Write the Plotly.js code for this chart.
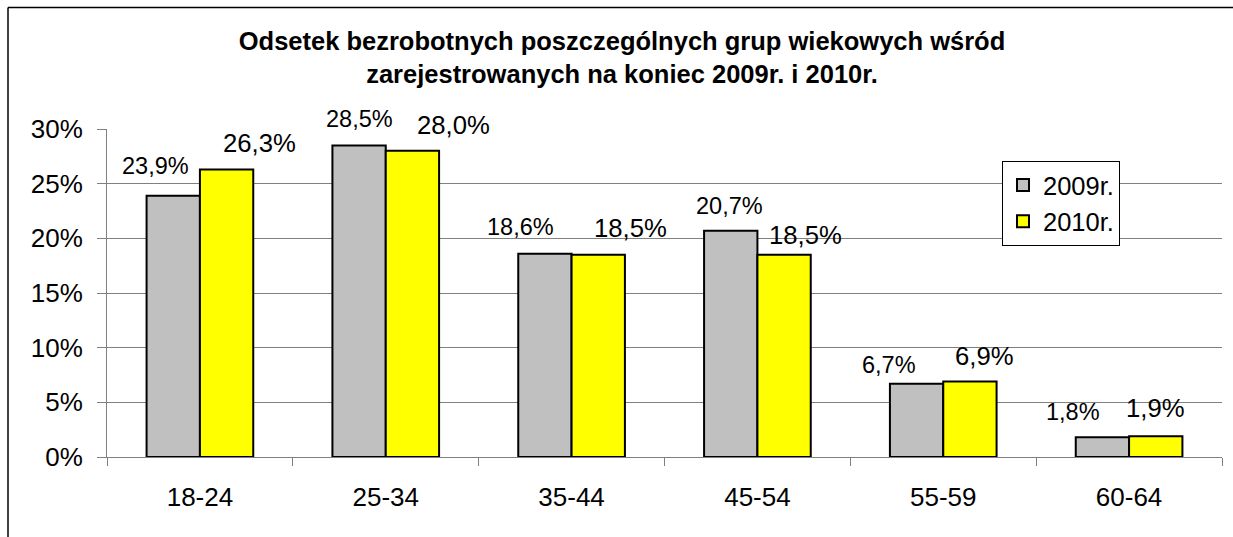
<!DOCTYPE html>
<html>
<head>
<meta charset="utf-8">
<script src="https://cdn.plot.ly/plotly-3.0.1.min.js"></script>
<style>html,body{margin:0;padding:0;background:#fff;}#chart{width:1233px;height:537px;}</style>
</head>
<body>
<div id="chart"></div>
<script>
// ---- data ----
var categories = ["18-24", "25-34", "35-44", "45-54", "55-59", "60-64"];
var series2009 = [23.9, 28.5, 18.6, 20.7, 6.7, 1.8];
var series2010 = [26.3, 28.0, 18.5, 18.5, 6.9, 1.9];
var seriesNames = ["2009r.", "2010r."];
var yTickVals = [0, 5, 10, 15, 20, 25, 30];
var yTickText = yTickVals.map(function (v) { return v + '%'; });
var titleText = "Odsetek bezrobotnych poszczególnych grup wiekowych wśród<br>zarejestrowanych na koniec 2009r. i 2010r.";

// ---- layout / label nudges (pixels, styling only) ----
var W = 1233, H = 537;
var margin = {l: 107, r: 11, t: 129, b: 80};
var bargap = 0.426;
var nudge2009 = {dx: [-17.5, 0, -24, -1, -28, -29], dy: [30, 26, 27, 25, 19, 25]};
var nudge2010 = {dx: [32.5, 41, 32, 21, 15, 0], dy: [26, 26, 27, 20, 25.5, 28]};

var FONT = "Liberation Sans, Arial, sans-serif";
var plotW = W - margin.l - margin.r;
var plotH = H - margin.t - margin.b;
var catW = plotW / categories.length;
var barW = catW * (1 - bargap) / 2;
var half = barW / 2;

function fmt(v) { return v.toFixed(1).replace('.', ',') + '%'; }

var traces = [
  {type: 'bar', name: seriesNames[0], x: categories, y: series2009,
   marker: {color: '#C0C0C0', line: {color: '#000000', width: 2}},
   hoverinfo: 'skip'},
  {type: 'bar', name: seriesNames[1], x: categories, y: series2010,
   marker: {color: '#FFFF00', line: {color: '#000000', width: 2}},
   hoverinfo: 'skip'}
];

var annotations = [];
categories.forEach(function (c, i) {
  annotations.push({x: c, y: series2009[i], xref: 'x', yref: 'y', text: fmt(series2009[i]),
    showarrow: false, xanchor: 'center', yanchor: 'middle',
    xshift: -half + nudge2009.dx[i], yshift: nudge2009.dy[i],
    font: {family: FONT, size: 23.5, color: '#000'}});
  annotations.push({x: c, y: series2010[i], xref: 'x', yref: 'y', text: fmt(series2010[i]),
    showarrow: false, xanchor: 'center', yanchor: 'middle',
    xshift: half + nudge2010.dx[i], yshift: nudge2010.dy[i],
    font: {family: FONT, size: 25.7, color: '#000'}});
});

var px2x = function (p) { return (p - margin.l) / plotW; };
var py2y = function (p) { return (H - margin.b - p) / plotH; };

var frame = {color: '#000000', width: 1.5};
var layout = {
  width: W, height: H,
  margin: margin,
  paper_bgcolor: '#ffffff', plot_bgcolor: '#ffffff',
  font: {family: FONT, size: 26, color: '#000'},
  title: {text: titleText, x: 622 / W, xanchor: 'center', y: 1 - 50 / H, yanchor: 'top',
          font: {family: FONT, size: 25.5, color: '#000', weight: 'bold'}},
  barmode: 'group', bargap: bargap, bargroupgap: 0,
  showlegend: true,
  legend: {x: px2x(1002), y: py2y(161), xanchor: 'left', yanchor: 'top',
           bgcolor: '#ffffff', bordercolor: '#000000', borderwidth: 1,
           font: {family: FONT, size: 25.5, color: '#000'}},
  xaxis: {type: 'category', tickson: 'boundaries', ticks: 'outside', ticklen: 8,
          tickcolor: '#808080', tickwidth: 1, showline: true, linecolor: '#808080', linewidth: 1,
          showgrid: false, zeroline: false, ticklabelstandoff: 17,
          tickfont: {family: FONT, size: 26, color: '#000'}, fixedrange: true},
  yaxis: {range: [0, 30], tickmode: 'array', tickvals: yTickVals, ticktext: yTickText,
          ticks: 'outside', ticklen: 9,
          tickcolor: '#808080', tickwidth: 1, showline: true, linecolor: '#808080', linewidth: 1,
          showgrid: true, gridcolor: '#808080', gridwidth: 1, zeroline: false,
          ticklabelstandoff: 9,
          tickfont: {family: FONT, size: 26, color: '#000'}, fixedrange: true},
  annotations: annotations,
  shapes: [
    {type: 'line', xref: 'paper', yref: 'paper', x0: px2x(8), x1: px2x(1233), y0: py2y(7.5), y1: py2y(7.5), line: frame, layer: 'above'},
    {type: 'line', xref: 'paper', yref: 'paper', x0: px2x(8), x1: px2x(8), y0: py2y(7.5), y1: py2y(537), line: frame, layer: 'above'}
  ]
};

Plotly.newPlot('chart', traces, layout, {staticPlot: true, displayModeBar: false});
</script>
</body>
</html>
